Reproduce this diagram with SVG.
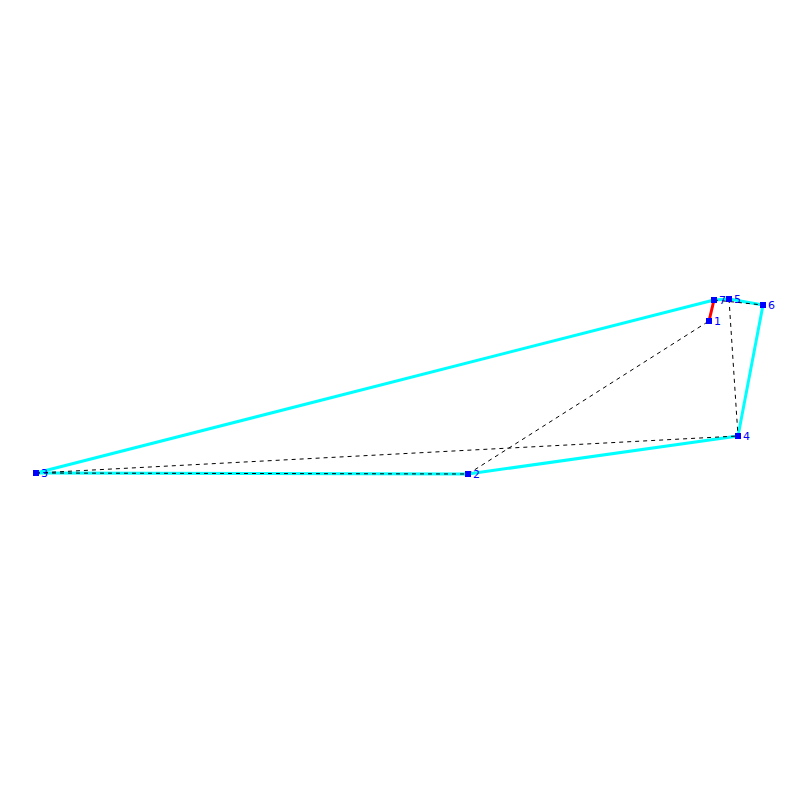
<svg xmlns="http://www.w3.org/2000/svg" width="800" height="800" viewBox="0 0 800 800">
<style>
.e{stroke:#00ffff;stroke-width:3;fill:none}
.r{stroke:#ff0000;stroke-width:3;fill:none}
.d{stroke:#000;stroke-width:1;stroke-dasharray:4,4;fill:none}
.n rect{fill:#0000ff}
.n text{fill:#0000ff;font-family:"DejaVu Sans",sans-serif;font-size:11px}
</style>
<rect width="800" height="800" fill="#fff"/>
<g id="connectors">
<line class="e" x1="36" y1="473" x2="714" y2="300"/>
<line class="e" x1="36" y1="473" x2="468" y2="474"/>
<line class="e" x1="468" y1="474" x2="738" y2="436"/>
<line class="e" x1="738" y1="436" x2="763" y2="305"/>
<line class="e" x1="763" y1="305" x2="729" y2="299"/>
<line class="e" x1="729" y1="299" x2="714" y2="300"/>
<line class="r" x1="714" y1="300" x2="709" y2="321"/>
<line class="d" x1="36" y1="473" x2="468" y2="474"/>
<line class="d" x1="36" y1="473" x2="738" y2="436"/>
<line class="d" x1="468" y1="474" x2="709" y2="321"/>
<line class="d" x1="729" y1="299" x2="738" y2="436"/>
<line class="d" x1="714" y1="300" x2="763" y2="305"/>
</g>
<g id="n1" class="n"><rect x="706" y="318" width="6" height="6"/><text x="714" y="325">1</text></g>
<g id="n2" class="n"><rect x="465" y="471" width="6" height="6"/><text x="473" y="478">2</text></g>
<g id="n3" class="n"><rect x="33" y="470" width="6" height="6"/><text x="41" y="477">3</text></g>
<g id="n4" class="n"><rect x="735" y="433" width="6" height="6"/><text x="743" y="440">4</text></g>
<g id="n5" class="n"><rect x="726" y="296" width="6" height="6"/><text x="734" y="303">5</text></g>
<g id="n6" class="n"><rect x="760" y="302" width="6" height="6"/><text x="768" y="309">6</text></g>
<g id="n7" class="n"><rect x="711" y="297" width="6" height="6"/><text x="719" y="304">7</text></g>
</svg>
